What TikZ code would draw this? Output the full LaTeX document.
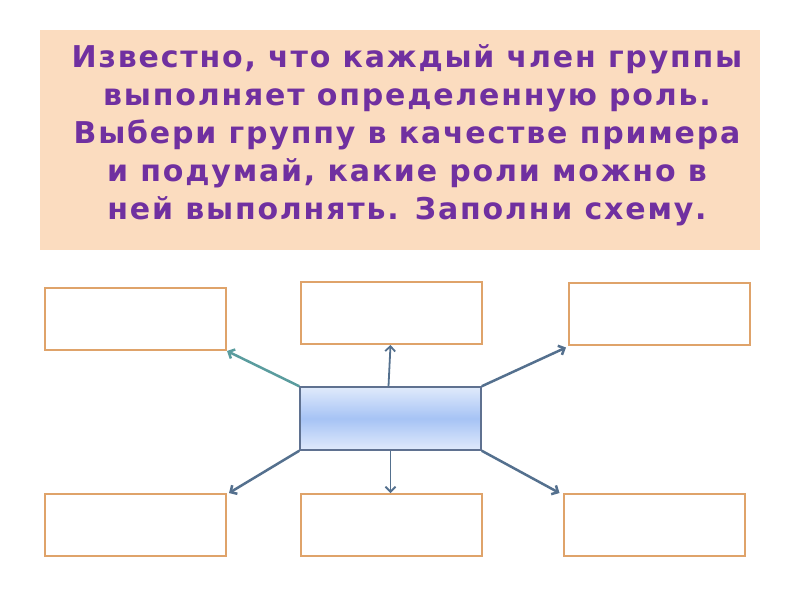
\documentclass[tikz,border=0pt]{standalone}
\usepackage{fontspec}
\setmainfont{DejaVu Sans}
\newfontfamily\titlefont[LetterSpace=6]{DejaVu Sans}
\usetikzlibrary{arrows.meta}
\definecolor{peach}{HTML}{FBDCBF}
\definecolor{purp}{HTML}{7030A0}
\definecolor{boxor}{HTML}{DFA36A}
\definecolor{teal}{HTML}{5A9C9E}
\definecolor{steel}{HTML}{54708E}
\definecolor{cborder}{HTML}{5F7190}
\definecolor{lightt}{HTML}{E0EAFB}
\definecolor{midb}{HTML}{A6C3F5}
\pgfdeclareverticalshading{cshade}{100bp}{color(0bp)=(lightt); color(25bp)=(lightt); color(50bp)=(midb); color(75bp)=(lightt); color(100bp)=(lightt)}
\tikzset{
  rolebox/.style={draw=boxor, line width=2pt, fill=white, minimum width=181pt, minimum height=62pt, inner sep=0pt},
  centerbox/.style={draw=cborder, line width=1.5pt, shading=cshade, minimum width=181pt, minimum height=63pt, inner sep=0pt},
  link/.style={line width=2.5pt, -{Straight Barb[length=5pt,width=10pt]}},
  vlink/.style={line width=1.8pt, -{Straight Barb[length=5pt,width=10pt]}},
}
\begin{document}
\begin{tikzpicture}[x=1pt,y=-1pt]
\useasboundingbox (0,0) rectangle (800,600);
\fill[white] (0,0) rectangle (800,600);
\node[fill=peach, minimum width=720pt, minimum height=220pt, inner sep=0pt] (title) at (400,140) {};
\node[text=purp, font=\titlefont\fontsize{30}{38}\selectfont\bfseries, align=center] (txt) at (407,135)
 {Известно, что каждый член группы\\ выполняет определенную роль.\\ Выбери группу в качестве примера\\ и подумай, какие роли можно в\\ ней выполнять. Заполни схему.};
\node[rolebox] (tl) at (135.5,319) {};
\node[rolebox] (tm) at (391.5,313) {};
\node[rolebox] (tr) at (659.5,313.5) {};
\node[rolebox] (bl) at (135.5,525) {};
\node[rolebox] (bm) at (391.5,525) {};
\node[rolebox] (br) at (654,525) {};
\node[centerbox] (c) at (390.5,418.5) {};
\draw[link, teal] (c.north west) -- (tl.south east);
\draw[vlink, steel] ([xshift=-2pt]c.north) -- ([xshift=-1pt]tm.south);
\draw[link, steel] (c.north east) -- ([xshift=-2pt,yshift=-2pt]tr.south west);
\draw[link, steel] (c.south west) -- ([xshift=2pt]bl.north east);
\draw[vlink, steel] (c.south) -- ([xshift=-1pt]bm.north);
\draw[link, steel] (c.south east) -- ([xshift=-3pt]br.north west);
\end{tikzpicture}
\end{document}
